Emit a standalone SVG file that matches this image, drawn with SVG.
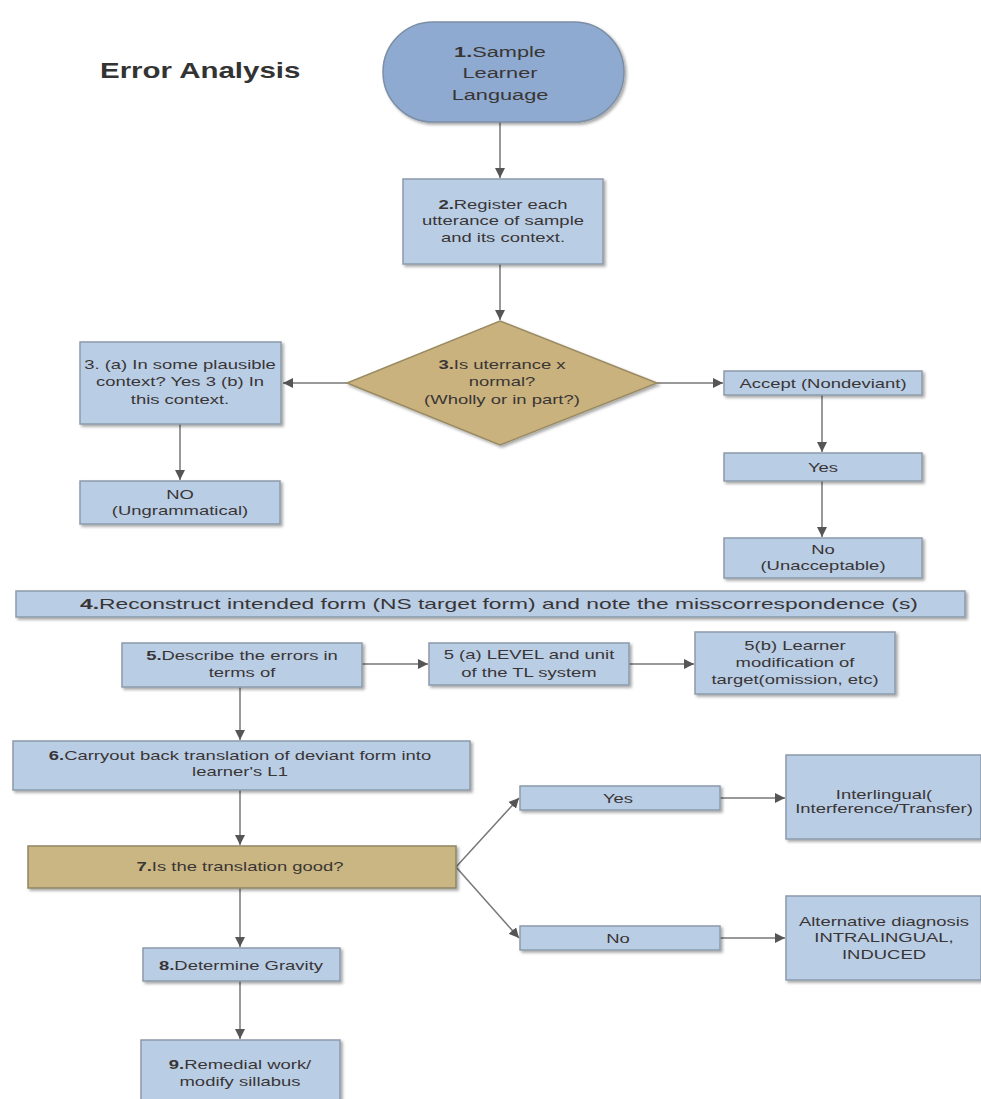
<svg xmlns="http://www.w3.org/2000/svg" width="981" height="1099" viewBox="0 0 981 1099">
<defs>
<filter id="sh" x="-10%" y="-10%" width="130%" height="140%">
<feDropShadow dx="2" dy="2" stdDeviation="1.5" flood-color="#000" flood-opacity="0.35"/>
</filter>
<marker id="ah" viewBox="0 0 10 10" refX="10" refY="5" markerWidth="10" markerHeight="10" markerUnits="userSpaceOnUse" orient="auto">
<path d="M0,0 L10,5 L0,10 z" fill="#555"/>
</marker>
<style>
.box{fill:#b9cde5;stroke:#8c9aab;stroke-width:1.5;filter:url(#sh)}
.tan{fill:#cab682;stroke:#8f8665;stroke-width:1.5;filter:url(#sh)}
.t{font-family:"Liberation Sans",Arial,sans-serif;font-size:13px;fill:#3a3535;text-anchor:middle}
.c{stroke:#777;stroke-width:1.5;fill:none;marker-end:url(#ah)}
</style>
</defs>
<rect width="981" height="1099" fill="#fff"/>
<text x="100" y="78" transform="matrix(1.34 0 0 1 -34 0)" font-family="Liberation Sans,Arial,sans-serif" font-size="22" font-weight="bold" fill="#333">Error Analysis</text>

<g id="connectors">
<line class="c" x1="500" y1="122" x2="500" y2="178"/>
<line class="c" x1="500" y1="264" x2="500" y2="320"/>
<line class="c" x1="347" y1="383" x2="283" y2="383"/>
<line class="c" x1="657" y1="383" x2="723" y2="383"/>
<line class="c" x1="180" y1="424" x2="180" y2="480"/>
<line class="c" x1="822" y1="395" x2="822" y2="452"/>
<line class="c" x1="822" y1="481" x2="822" y2="537"/>
<line class="c" x1="362" y1="664" x2="428" y2="664"/>
<line class="c" x1="629" y1="664" x2="694" y2="664"/>
<line class="c" x1="240" y1="687" x2="240" y2="740"/>
<line class="c" x1="240" y1="790" x2="240" y2="845"/>
<line class="c" x1="240" y1="888" x2="240" y2="947"/>
<line class="c" x1="240" y1="981" x2="240" y2="1039"/>
<line class="c" x1="456" y1="867" x2="519" y2="798"/>
<line class="c" x1="456" y1="867" x2="519" y2="938"/>
<line class="c" x1="720" y1="798" x2="785" y2="798"/>
<line class="c" x1="720" y1="938" x2="785" y2="938"/>
</g>

<g id="n1">
<rect x="383" y="22" width="241" height="100" rx="50" fill="#8eaad0" stroke="#7d8fa6" stroke-width="1.5" filter="url(#sh)"/>
<text class="t" style="font-size:15px" transform="matrix(1.45 0 0 1 -225 0)"><tspan x="500" y="57"><tspan font-weight="bold">1.</tspan>Sample</tspan><tspan x="500" y="78">Learner</tspan><tspan x="500" y="100">Language</tspan></text>
</g>

<g id="n2">
<rect class="box" x="403" y="179" width="200" height="85"/>
<text class="t" transform="matrix(1.42 0 0 1 -211.26 0)"><tspan x="503" y="209"><tspan font-weight="bold">2.</tspan>Register each</tspan><tspan x="503" y="225">utterance of sample</tspan><tspan x="503" y="242">and its context.</tspan></text>
</g>

<g id="n3">
<polygon points="500,321 657,383 500,445 347,383" fill="#c9b27d" stroke="#9a8b63" stroke-width="1.5" filter="url(#sh)"/>
<text class="t" transform="matrix(1.42 0 0 1 -210.84 0)"><tspan x="502" y="369"><tspan font-weight="bold">3.</tspan>Is uterrance x</tspan><tspan x="502" y="386">normal?</tspan><tspan x="502" y="404">(Wholly or in part?)</tspan></text>
</g>

<g id="n3a">
<rect class="box" x="80" y="342" width="201" height="82"/>
<text class="t" transform="matrix(1.42 0 0 1 -75.6 0)"><tspan x="180" y="369">3. (a) In some plausible</tspan><tspan x="180" y="386">context?  Yes 3 (b) In</tspan><tspan x="180" y="404">this context.</tspan></text>
</g>

<g id="n3no">
<rect class="box" x="80" y="481" width="200" height="43"/>
<text class="t" transform="matrix(1.42 0 0 1 -75.6 0)"><tspan x="180" y="499">NO</tspan><tspan x="180" y="515">(Ungrammatical)</tspan></text>
</g>

<g id="naccept">
<rect class="box" x="724" y="371" width="198" height="24"/>
<text class="t" x="823" y="388" transform="matrix(1.42 0 0 1 -345.66 0)">Accept (Nondeviant)</text>
</g>

<g id="nyes1">
<rect class="box" x="724" y="453" width="198" height="28"/>
<text class="t" x="823" y="472" transform="matrix(1.42 0 0 1 -345.66 0)">Yes</text>
</g>

<g id="nno1">
<rect class="box" x="724" y="538" width="198" height="40"/>
<text class="t" transform="matrix(1.42 0 0 1 -345.66 0)"><tspan x="823" y="554">No</tspan><tspan x="823" y="570">(Unacceptable)</tspan></text>
</g>

<g id="n4">
<rect class="box" x="16" y="591" width="949" height="26"/>
<text class="t" x="499" y="609" style="font-size:15px" transform="matrix(1.42 0 0 1 -209.58 0)" textLength="590" lengthAdjust="spacingAndGlyphs"><tspan font-weight="bold">4.</tspan>Reconstruct intended form (NS target form)  and note the misscorrespondence (s)</text>
</g>

<g id="n5">
<rect class="box" x="122" y="643" width="240" height="44"/>
<text class="t" transform="matrix(1.42 0 0 1 -101.64 0)"><tspan x="242" y="660"><tspan font-weight="bold">5.</tspan>Describe the errors in</tspan><tspan x="242" y="677">terms of</tspan></text>
</g>

<g id="n5a">
<rect class="box" x="429" y="643" width="200" height="42"/>
<text class="t" transform="matrix(1.42 0 0 1 -222.18 0)"><tspan x="529" y="659">5 (a)  LEVEL and unit</tspan><tspan x="529" y="677">of the TL system</tspan></text>
</g>

<g id="n5b">
<rect class="box" x="695" y="632" width="200" height="62"/>
<text class="t" transform="matrix(1.42 0 0 1 -333.9 0)"><tspan x="795" y="650">5(b) Learner</tspan><tspan x="795" y="667">modification of</tspan><tspan x="795" y="684">target(omission, etc)</tspan></text>
</g>

<g id="n6">
<rect class="box" x="13" y="741" width="457" height="49"/>
<text class="t" transform="matrix(1.42 0 0 1 -100.8 0)"><tspan x="240" y="760"><tspan font-weight="bold">6.</tspan>Carryout back translation of deviant form into</tspan><tspan x="240" y="776">learner's L1</tspan></text>
</g>

<g id="n7">
<rect class="tan" x="28" y="846" width="428" height="42"/>
<text class="t" x="240" y="871" transform="matrix(1.42 0 0 1 -100.8 0)"><tspan font-weight="bold">7.</tspan>Is the translation good?</text>
</g>

<g id="nyes2">
<rect class="box" x="520" y="786" width="200" height="24"/>
<text class="t" x="618" y="803" transform="matrix(1.42 0 0 1 -259.56 0)">Yes</text>
</g>

<g id="nno2">
<rect class="box" x="520" y="926" width="200" height="24"/>
<text class="t" x="618" y="943" transform="matrix(1.42 0 0 1 -259.56 0)">No</text>
</g>

<g id="ninter">
<rect class="box" x="786" y="755" width="195" height="84"/>
<text class="t" transform="matrix(1.42 0 0 1 -371.28 0)"><tspan x="884" y="799">Interlingual(</tspan><tspan x="884" y="813">Interference/Transfer)</tspan></text>
</g>

<g id="nalt">
<rect class="box" x="786" y="896" width="195" height="84"/>
<text class="t" transform="matrix(1.42 0 0 1 -371.28 0)"><tspan x="884" y="926">Alternative diagnosis</tspan><tspan x="884" y="942">INTRALINGUAL,</tspan><tspan x="884" y="959">INDUCED</tspan></text>
</g>

<g id="n8">
<rect class="box" x="143" y="948" width="197" height="33"/>
<text class="t" x="241" y="970" transform="matrix(1.42 0 0 1 -101.22 0)"><tspan font-weight="bold">8.</tspan>Determine Gravity</text>
</g>

<g id="n9">
<rect class="box" x="141" y="1040" width="199" height="70"/>
<text class="t" transform="matrix(1.42 0 0 1 -100.8 0)"><tspan x="240" y="1069"><tspan font-weight="bold">9.</tspan>Remedial work/</tspan><tspan x="240" y="1086">modify sillabus</tspan></text>
</g>
</svg>
